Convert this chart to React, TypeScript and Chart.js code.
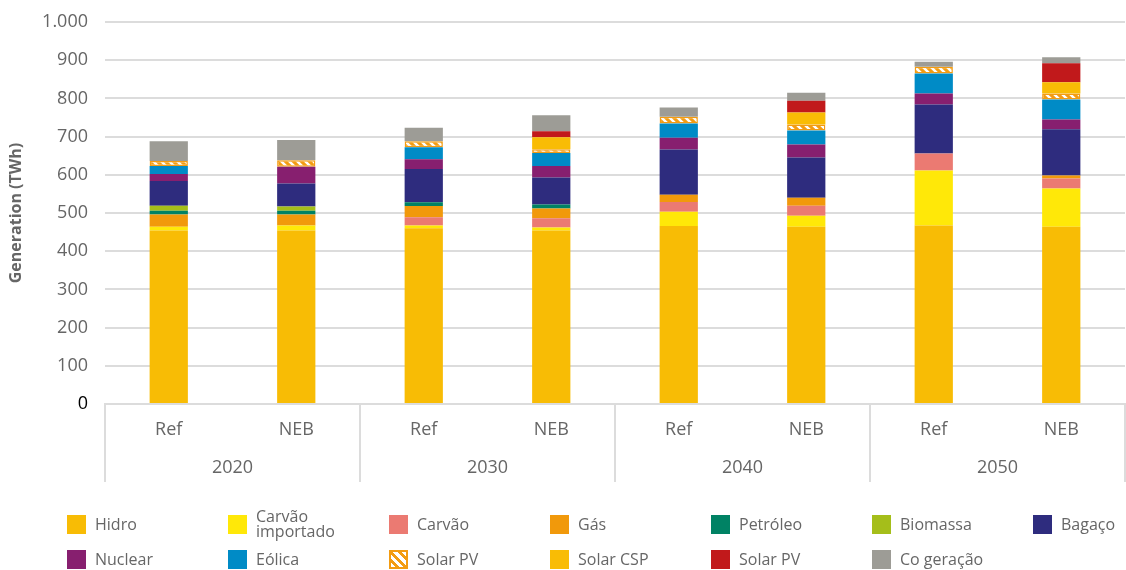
import React, { useEffect, useRef } from "react";
import { Chart, registerables } from "chart.js";

Chart.register(...registerables);

const categories = ["Ref", "NEB", "Ref", "NEB", "Ref", "NEB", "Ref", "NEB"];
const groups = ["2020", "2030", "2040", "2050"];
const yTicks = [0, 100, 200, 300, 400, 500, 600, 700, 800, 900, 1000];

const hidro = [454, 454, 460, 454, 466, 464, 467, 464];
const carvaoImportado = [10, 13, 7, 8, 37, 29, 144, 100];
const carvao = [0, 0, 22, 24, 26, 26, 45, 26];
const gas = [32, 29, 29, 26, 19, 21, 0, 8];
const petroleo = [10, 10, 10, 10, 0, 0, 0, 0];
const biomassa = [13, 11, 0, 0, 0, 0, 0, 0];
const bagaco = [65, 60, 87, 71, 118, 105, 128, 121];
const nuclear = [18, 44, 26, 30, 31, 34, 29, 26];
const eolica = [21, 0, 31, 34, 37, 37, 52, 52];
const solarPVHatched = [13, 17, 16, 10, 18, 16, 18, 16];
const solarCSP = [0, 0, 0, 31, 0, 31, 0, 29];
const solarPVRed = [0, 0, 0, 16, 0, 31, 0, 50];
const coGeracao = [52, 53, 35, 42, 24, 21, 13, 16];

const ORANGE = "#F39C12";
const FONT = "'Open Sans', sans-serif";

const series = [
  { label: "Hidro", data: hidro, color: "#F8BC05" },
  { label: "Carvão importado", data: carvaoImportado, color: "#FFE808" },
  { label: "Carvão", data: carvao, color: "#EB7A72" },
  { label: "Gás", data: gas, color: "#F1990B" },
  { label: "Petróleo", data: petroleo, color: "#008264" },
  { label: "Biomassa", data: biomassa, color: "#A5BE1A" },
  { label: "Bagaço", data: bagaco, color: "#2E2C7E" },
  { label: "Nuclear", data: nuclear, color: "#871F6F" },
  { label: "Eólica", data: eolica, color: "#008BC6" },
  { label: "Solar PV", data: solarPVHatched, color: "hatch" },
  { label: "Solar CSP", data: solarCSP, color: "#F9BC05" },
  { label: "Solar PV", data: solarPVRed, color: "#C1191B" },
  { label: "Co geração", data: coGeracao, color: "#9D9C96" },
];

const legendOrder = [
  { label: "Hidro", color: "#F8BC05" },
  { label: "Carvão\nimportado", color: "#FFE808" },
  { label: "Carvão", color: "#EB7A72" },
  { label: "Gás", color: "#F1990B" },
  { label: "Petróleo", color: "#008264" },
  { label: "Biomassa", color: "#A5BE1A" },
  { label: "Bagaço", color: "#2E2C7E" },
  { label: "Nuclear", color: "#871F6F" },
  { label: "Eólica", color: "#008BC6" },
  { label: "Solar PV", color: "hatch" },
  { label: "Solar CSP", color: "#F9BC05" },
  { label: "Solar PV", color: "#C1191B" },
  { label: "Co geração", color: "#9D9C96" },
];

function makePattern(): CanvasPattern | string {
  const c = document.createElement("canvas");
  c.width = 8;
  c.height = 8;
  const g = c.getContext("2d");
  if (!g) return ORANGE;
  g.fillStyle = ORANGE;
  g.fillRect(0, 0, 8, 8);
  g.strokeStyle = "#ffffff";
  g.lineWidth = 2.5;
  g.beginPath();
  g.moveTo(-2, -2);
  g.lineTo(10, 10);
  g.moveTo(-6, 2);
  g.lineTo(2, 10);
  g.moveTo(6, -2);
  g.lineTo(10, 2);
  g.stroke();
  const p = g.createPattern(c, "repeat");
  return p || ORANGE;
}

const separators = {
  id: "separators",
  afterDraw(chart: any) {
    const a = chart.chartArea;
    const ctx = chart.ctx;
    ctx.save();
    ctx.strokeStyle = "#dcdcdc";
    ctx.lineWidth = 2;
    const w = (a.right - a.left) / groups.length;
    for (let i = 0; i <= groups.length; i++) {
      const x = Math.round(a.left + i * w);
      ctx.beginPath();
      ctx.moveTo(x, a.bottom);
      ctx.lineTo(x, a.bottom + 78);
      ctx.stroke();
    }
    ctx.restore();
  },
};

function fmt(v: number): string {
  return String(v).replace(/\B(?=(\d{3})+(?!\d))/g, ".");
}

export default function App() {
  const ref = useRef<HTMLCanvasElement | null>(null);

  useEffect(() => {
    if (!ref.current) return;
    const pattern = makePattern();
    const chart = new Chart(ref.current, {
      type: "bar",
      data: {
        labels: categories,
        datasets: series.map((s) => ({
          label: s.label,
          data: s.data,
          backgroundColor: s.color === "hatch" ? (pattern as any) : s.color,
          borderColor: s.color === "hatch" ? ORANGE : s.color,
          borderWidth: s.color === "hatch" ? 1.5 : 0,
          borderSkipped: false as any,
          stack: "s",
          categoryPercentage: 1,
          barPercentage: 0.3,
        })),
      },
      options: {
        animation: false,
        responsive: true,
        maintainAspectRatio: false,
        layout: { padding: { left: 0, right: 1, top: 22, bottom: 88 } },
        plugins: {
          legend: { display: false },
          tooltip: { enabled: false },
        },
        scales: {
          y: {
            stacked: true,
            min: 0,
            max: 1000,
            afterBuildTicks: (s: any) => {
              s.ticks = yTicks.map((v) => ({ value: v }));
            },
            afterFit: (s: any) => {
              s.width = 105;
              s.paddingTop = 0;
              s.paddingBottom = 0;
            },
            grid: { color: "#dcdcdc", lineWidth: 2, drawTicks: false },
            border: { display: false },
            ticks: {
              padding: 17,
              font: { family: FONT, size: 18 },
              color: (c: any) => (c.tick && c.tick.value === 0 ? "#000" : "#666"),
              callback: (v: any) => fmt(Number(v)),
            },
            title: {
              display: true,
              text: "Generation (TWh)",
              color: "#666",
              font: { family: FONT, size: 16, weight: "bold" },
              padding: { top: 7, bottom: 0 },
            },
          },
          x: {
            stacked: true,
            weight: 0,
            afterFit: (s: any) => {
              s.height = 41;
            },
            grid: { display: false, drawTicks: false },
            border: { display: true, color: "#dcdcdc", width: 2 },
            ticks: {
              padding: 15,
              font: { family: FONT, size: 18 },
              color: "#666",
            },
          },
          x2: {
            type: "category",
            position: "bottom",
            labels: groups,
            offset: true,
            weight: 1,
            afterFit: (s: any) => {
              s.height = 37;
            },
            grid: { display: false, drawTicks: false },
            border: { display: false },
            ticks: {
              padding: 12,
              font: { family: FONT, size: 18 },
              color: "#666",
            },
          },
        } as any,
      },
      plugins: [separators],
    });
    return () => chart.destroy();
  }, []);

  const swatch = (color: string) =>
    color === "hatch"
      ? {
          width: 19,
          height: 19,
          boxSizing: "border-box" as const,
          border: `2px solid ${ORANGE}`,
          background: `repeating-linear-gradient(45deg, #fff 0px, #fff 3px, ${ORANGE} 3px, ${ORANGE} 6px)`,
          flex: "0 0 auto",
        }
      : { width: 19, height: 19, background: color, flex: "0 0 auto" };

  return (
    <div style={{ position: "absolute", left: 0, top: 0, width: 1126, height: 570, background: "#fff" }}>
      <div style={{ position: "absolute", left: 0, top: 0, width: 1126, height: 570 }}>
        <canvas ref={ref} />
      </div>
      {legendOrder.map((item, i) => {
        const col = i % 7;
        const row = Math.floor(i / 7);
        const cy = row === 0 ? 524 : 559;
        return (
          <div
            key={i}
            style={{
              position: "absolute",
              left: 67 + col * 161,
              top: cy - 16,
              height: 32,
              display: "flex",
              alignItems: "center",
              fontFamily: FONT,
              fontSize: 16,
              color: "#666",
              lineHeight: "15px",
              whiteSpace: "pre",
            }}
          >
            <div style={swatch(item.color)} />
            <div style={{ marginLeft: 9 }}>{item.label}</div>
          </div>
        );
      })}
    </div>
  );
}
